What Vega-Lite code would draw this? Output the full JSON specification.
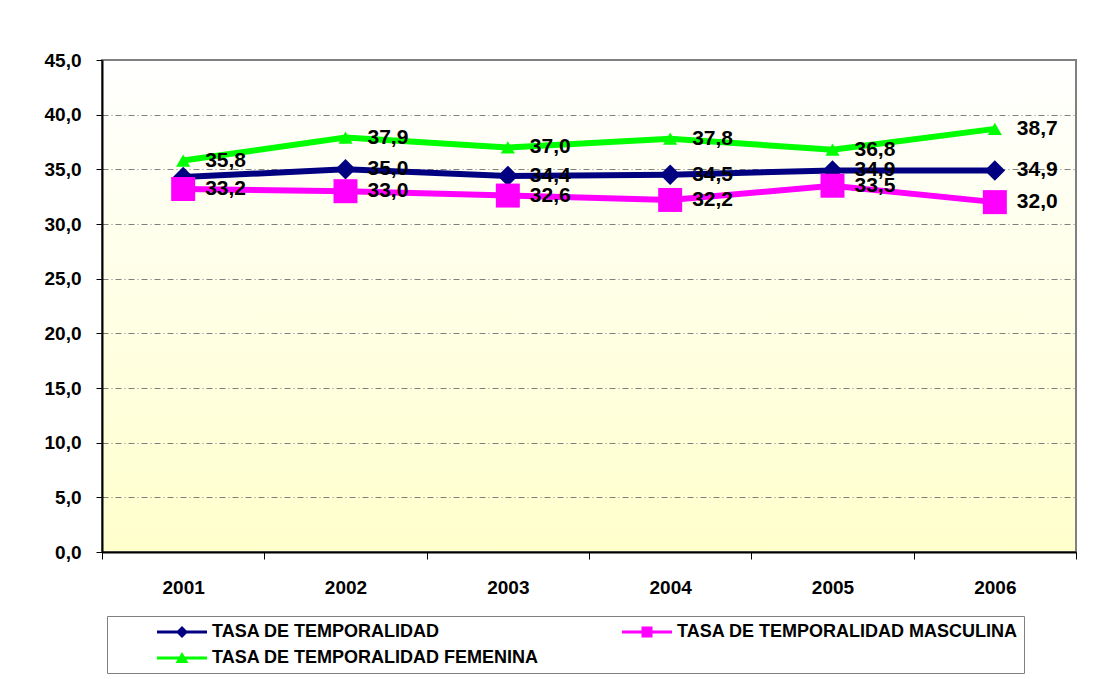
{
  "$schema": "https://vega.github.io/schema/vega-lite/v6.json",
  "width": 974,
  "height": 492,
  "autosize": {"type": "none"},
  "padding": {"left": 102, "top": 60, "right": 17, "bottom": 127},
  "background": "white",
  "data": {
    "values": [
      {"year": "2001", "serie": "TASA DE TEMPORALIDAD", "value": 34.3},
      {"year": "2002", "serie": "TASA DE TEMPORALIDAD", "value": 35.0},
      {"year": "2003", "serie": "TASA DE TEMPORALIDAD", "value": 34.4},
      {"year": "2004", "serie": "TASA DE TEMPORALIDAD", "value": 34.5},
      {"year": "2005", "serie": "TASA DE TEMPORALIDAD", "value": 34.9},
      {"year": "2006", "serie": "TASA DE TEMPORALIDAD", "value": 34.9},
      {"year": "2001", "serie": "TASA DE TEMPORALIDAD MASCULINA", "value": 33.2},
      {"year": "2002", "serie": "TASA DE TEMPORALIDAD MASCULINA", "value": 33.0},
      {"year": "2003", "serie": "TASA DE TEMPORALIDAD MASCULINA", "value": 32.6},
      {"year": "2004", "serie": "TASA DE TEMPORALIDAD MASCULINA", "value": 32.2},
      {"year": "2005", "serie": "TASA DE TEMPORALIDAD MASCULINA", "value": 33.5},
      {"year": "2006", "serie": "TASA DE TEMPORALIDAD MASCULINA", "value": 32.0},
      {"year": "2001", "serie": "TASA DE TEMPORALIDAD FEMENINA", "value": 35.8},
      {"year": "2002", "serie": "TASA DE TEMPORALIDAD FEMENINA", "value": 37.9},
      {"year": "2003", "serie": "TASA DE TEMPORALIDAD FEMENINA", "value": 37.0},
      {"year": "2004", "serie": "TASA DE TEMPORALIDAD FEMENINA", "value": 37.8},
      {"year": "2005", "serie": "TASA DE TEMPORALIDAD FEMENINA", "value": 36.8},
      {"year": "2006", "serie": "TASA DE TEMPORALIDAD FEMENINA", "value": 38.7}
    ]
  },
  "encoding": {
    "x": {
      "field": "year", "type": "ordinal", "bandPosition": 0.5,
      "scale": {"type": "band", "paddingInner": 0, "paddingOuter": 0},
      "axis": {
        "title": null, "labelAngle": 0, "tickBand": "extent",
        "labelFont": "Liberation Sans", "labelFontWeight": "bold", "labelFontSize": 19, "labelColor": "black",
        "tickSize": 7, "tickColor": "black", "tickWidth": 1,
        "domainColor": "black", "domainWidth": 2, "labelPadding": 19, "grid": false
      }
    },
    "y": {
      "field": "value", "type": "quantitative",
      "scale": {"domain": [0, 45], "nice": false, "zero": true},
      "axis": {
        "title": null, "values": [0, 5, 10, 15, 20, 25, 30, 35, 40, 45], "format": ".1f",
        "labelFont": "Liberation Sans", "labelFontWeight": "bold", "labelFontSize": 19, "labelColor": "black",
        "tickSize": 6, "tickColor": "black", "tickWidth": 1, "labelPadding": 15,
        "domainColor": "black", "domainWidth": 2,
        "grid": true, "gridColor": "#808080", "gridWidth": 1, "gridDash": [6, 3, 1, 3]
      }
    }
  },
  "layer": [
    {
      "transform": [{"filter": "datum.serie == 'TASA DE TEMPORALIDAD'"}],
      "mark": {"type": "line", "strokeWidth": 6, "color": "#000080"},
      "encoding": {}
    },
    {
      "transform": [{"filter": "datum.serie == 'TASA DE TEMPORALIDAD MASCULINA'"}],
      "mark": {"type": "line", "strokeWidth": 6, "color": "#FF00FF"},
      "encoding": {}
    },
    {
      "transform": [{"filter": "datum.serie == 'TASA DE TEMPORALIDAD FEMENINA'"}],
      "mark": {"type": "line", "strokeWidth": 6, "color": "#00FF00"},
      "encoding": {}
    },
    {
      "transform": [{"filter": "datum.serie == 'TASA DE TEMPORALIDAD'"}],
      "mark": {"type": "point", "shape": "diamond", "size": 420, "filled": true, "opacity": 1, "color": "#000080"},
      "encoding": {}
    },
    {
      "transform": [{"filter": "datum.serie == 'TASA DE TEMPORALIDAD MASCULINA'"}],
      "mark": {"type": "point", "shape": "square", "size": 576, "filled": true, "opacity": 1, "color": "#FF00FF"},
      "encoding": {}
    },
    {
      "transform": [{"filter": "datum.serie == 'TASA DE TEMPORALIDAD FEMENINA'"}],
      "mark": {"type": "point", "shape": "triangle-up", "size": 200, "filled": true, "opacity": 1, "color": "#00FF00"},
      "encoding": {}
    },
    {
      "transform": [{"filter": "false"}],
      "mark": {"type": "point", "filled": true, "opacity": 1},
      "encoding": {
        "color": {
          "field": "serie", "type": "nominal",
          "scale": {
            "domain": ["TASA DE TEMPORALIDAD", "TASA DE TEMPORALIDAD MASCULINA", "TASA DE TEMPORALIDAD FEMENINA"],
            "range": ["#000080", "#FF00FF", "#00FF00"]
          },
          "legend": {
            "orient": "none", "legendX": 5, "legendY": 556,
            "direction": "horizontal", "columns": 2,
            "title": " ", "titleOrient": "left", "titlePadding": 44, "titleFontSize": 18,
            "padding": 6, "strokeColor": "#808080", "fillColor": "white",
            "labelFont": "Liberation Sans", "labelFontWeight": "bold", "labelFontSize": 18, "labelColor": "black",
            "labelOffset": 35, "symbolSize": 400, "symbolStrokeWidth": 0,
            "rowPadding": 7, "columnPadding": 83, "labelLimit": 600
          }
        },
        "shape": {
          "field": "serie", "type": "nominal",
          "scale": {
            "domain": ["TASA DE TEMPORALIDAD", "TASA DE TEMPORALIDAD MASCULINA", "TASA DE TEMPORALIDAD FEMENINA"],
            "range": [
              "M-1,-0.15H4V0.15H-1Z M1.5,-0.6L2.1,0L1.5,0.6L0.9,0Z",
              "M-1,-0.15H4V0.15H-1Z M0.95,-0.55H2.05V0.55H0.95Z",
              "M-1,-0.15H4V0.15H-1Z M1.5,-0.6L2.15,0.5H0.85Z"
            ]
          }
        }
      }
    },
    {
      "transform": [{"filter": "!(datum.serie == 'TASA DE TEMPORALIDAD' && datum.year == '2001')"}],
      "mark": {"type": "text", "align": "left", "baseline": "middle", "dx": 22, "font": "Liberation Sans", "fontWeight": "bold", "fontSize": 21, "color": "black"},
      "encoding": {
        "text": {"field": "value", "type": "quantitative", "format": ".1f"}
      }
    }
  ],
  "config": {
    "locale": {"number": {"decimal": ",", "thousands": ".", "grouping": [3], "currency": ["", " €"]}},
    "view": {
      "stroke": "#808080", "strokeWidth": 2,
      "fill": {"gradient": "linear", "x1": 0, "y1": 0, "x2": 0, "y2": 1, "stops": [{"offset": 0, "color": "#FFFFFF"}, {"offset": 1, "color": "#FFFFCC"}]}
    }
  }
}
